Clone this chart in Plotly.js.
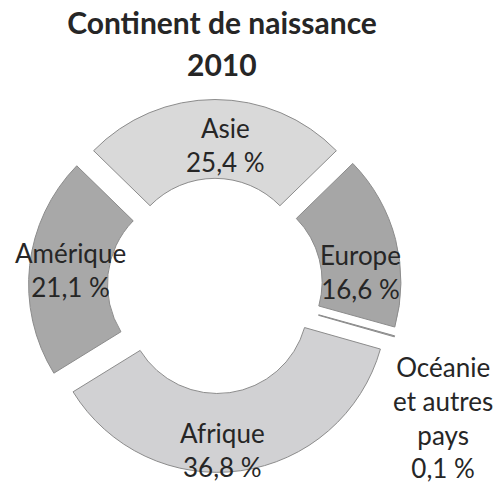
<!DOCTYPE html>
<html>
<head>
<meta charset="utf-8">
<script src="https://cdn.plot.ly/plotly-3.0.1.min.js"></script>
<style>html,body{margin:0;padding:0;background:#fff;}</style>
</head>
<body>
<div id="chart" style="width:498px;height:485px;"></div>
<script>
const titleLine1 = "Continent de naissance";
const titleLine2 = "2010";
const labels = ["Asie", "Europe", "Océanie et autres pays", "Afrique", "Amérique"];
const displayLabels = ["Asie", "Europe", "Océanie<br>et autres<br>pays", "Afrique", "Amérique"];
const values = [25.4, 16.6, 0.1, 36.8, 21.1];
const colors = ["#d9d9d9", "#a6a6a6", "#a6a6a6", "#d1d1d3", "#a8a8a8"];

const fmt = v => v.toFixed(1).replace(".", ",") + "\u00a0%";
const total = values.reduce((a, b) => a + b, 0);

// label anchor points (pixels in the 498x485 page) for each slice
const labelPos = [[225, 145], [360, 272], [443, 417], [222, 450], [70, 270]];

const FONT = "Lato, 'Open Sans', sans-serif";

const trace = {
  type: "pie",
  labels: labels,
  values: values,
  textinfo: "none",
  textposition: "none",
  sort: false,
  direction: "clockwise",
  rotation: -(values[0] / total) * 180,
  hole: 0.535,
  pull: 0.1,
  marker: {colors: colors, line: {color: "#8c8c8c", width: 1}},
  domain: {x: [0.0562, 0.8072], y: [0.0258, 0.7948]},
  showlegend: false,
  hoverinfo: "label+value"
};

const labelAnnotations = values.map((v, i) => ({
  text: displayLabels[i] + "<br>" + fmt(v),
  x: labelPos[i][0] / 498, y: 1 - labelPos[i][1] / 485,
  xref: "paper", yref: "paper", xanchor: "center", yanchor: "middle",
  showarrow: false, align: "center",
  font: {family: FONT, size: 26, color: "#262626"}
}));

const layout = {
  width: 498,
  height: 485,
  margin: {l: 0, r: 0, t: 0, b: 0},
  paper_bgcolor: "#ffffff",
  title: {
    text: "<b>" + titleLine1 + "</b>",
    font: {family: FONT, size: 30, color: "#262626"},
    x: 222 / 498, xanchor: "center", xref: "paper",
    y: 1 - 23 / 485, yanchor: "middle", yref: "container"
  },
  annotations: [
    {text: "<b>" + titleLine2 + "</b>", x: 222 / 498, y: 1 - 64 / 485, xref: "paper", yref: "paper",
     xanchor: "center", yanchor: "middle", showarrow: false,
     font: {family: FONT, size: 30, color: "#262626"}}
  ].concat(labelAnnotations)
};

Plotly.newPlot("chart", [trace], layout, {displayModeBar: false, staticPlot: true});
</script>
</body>
</html>
